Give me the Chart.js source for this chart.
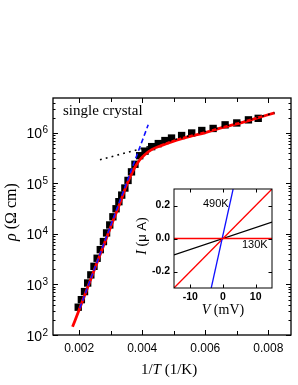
<!DOCTYPE html>
<html>
<head>
<meta charset="utf-8">
<script src="https://cdn.jsdelivr.net/npm/chart.js@4.4.1/dist/chart.umd.min.js"></script>
<style>
  html, body { margin: 0; padding: 0; background: #fff; }
  #wrap { position: relative; width: 298px; height: 385px; }
  #wrap canvas { position: absolute; left: 0; top: 0; }
</style>
</head>
<body>
<div id="wrap">
  <canvas id="mainChart" width="298" height="385"></canvas>
  <canvas id="insetChart" width="298" height="385"></canvas>
</div>
<script>
// ── Main panel: resistivity vs 1/T ───────────────────────────
const invT = [0.00197, 0.00207, 0.00217, 0.00227, 0.00237, 0.00247, 0.00257, 0.00267,
              0.00277, 0.00287, 0.00297, 0.00307, 0.00317, 0.00326, 0.00335, 0.00345,
              0.00355, 0.00366, 0.00377, 0.00392, 0.00409, 0.0043, 0.00451, 0.00472,
              0.00493, 0.00525, 0.00557, 0.00589, 0.00625, 0.00663, 0.0070, 0.00737, 0.00768];
const rho  = [355, 501, 724, 1070, 1550, 2290, 3310, 4900,
              7080, 10500, 15100, 21900, 31600, 43600, 58900, 81300,
              115000, 170000, 240000, 355000, 437000, 537000, 617000, 708000,
              794000, 891000, 1.0e6, 1.12e6, 1.23e6, 1.45e6, 1.58e6, 1.82e6, 1.95e6];

// red fit curve
const fitInvT = [0.00179, 0.0020, 0.0025, 0.0030, 0.0033, 0.0035, 0.0037, 0.0039, 0.0041,
                 0.0043, 0.0046, 0.0050, 0.0055, 0.0060, 0.0065, 0.0070, 0.0075, 0.0082];
const fitRho  = [145, 316, 2090, 13800, 41700, 91200, 174000, 282000, 380000,
                 468000, 562000, 692000, 851000, 1.02e6, 1.26e6, 1.51e6, 1.86e6, 2.51e6];

// blue dashed (high T) and black dotted (low T) guides
const steepInvT = [0.00202, 0.00419];
const steepRho  = [339, 1.45e6];
const flatInvT  = [0.00266, 0.0082];
const flatRho   = [295000, 2.51e6];

const xMajor = [0.002, 0.004, 0.006, 0.008];
const xMinor = [0.003, 0.005, 0.007];
const yDecades = [2, 3, 4, 5, 6];

// ── Inset: I-V curves ────────────────────────────────────────
const vBlue = [-3.6, 3.1],  iBlue = [-0.3, 0.3];     // 490K
const vRed  = [-15, 15],    iRed  = [-0.3, 0.3];
const vBlack = [-15, 15],   iBlack = [-0.1, 0.1];
const vFlat = [-15, 15],    iFlat = [0, 0];          // 130K
const insetXTicks = [-10, 0, 10];
const insetYTicks = [-0.2, 0, 0.2];
const insetYLabels = ['-0.2', '0.0', '0.2'];

const SERIF = '"Liberation Serif", "Times New Roman", serif';
const SANS  = '"Liberation Sans", Arial, sans-serif';

const pts = (xs, ys) => xs.map((v, i) => ({ x: v, y: ys[i] }));

// draw a run of text pieces with different fonts
function richText(ctx, parts, x, y, align) {
  ctx.textAlign = 'left';
  let w = 0;
  parts.forEach(p => { ctx.font = p.f; w += ctx.measureText(p.t).width; });
  let cx = align === 'center' ? x - w / 2 : x;
  parts.forEach(p => { ctx.font = p.f; ctx.fillText(p.t, cx, y); cx += ctx.measureText(p.t).width; });
}

const mainFrame = {
  id: 'mainFrame',
  afterDatasetsDraw(chart) {
    const { ctx, chartArea: a, scales: { x, y } } = chart;
    ctx.save();
    ctx.strokeStyle = '#000';
    ctx.fillStyle = '#000';
    ctx.lineWidth = 1;
    ctx.beginPath();
    const xt = (v, len) => {
      const px = Math.round(x.getPixelForValue(v)) + 0.5;
      ctx.moveTo(px, a.bottom); ctx.lineTo(px, a.bottom - len);
      ctx.moveTo(px, a.top);    ctx.lineTo(px, a.top + len);
    };
    const yt = (v, len) => {
      const py = Math.round(y.getPixelForValue(v)) + 0.5;
      ctx.moveTo(a.left, py);  ctx.lineTo(a.left + len, py);
      ctx.moveTo(a.right, py); ctx.lineTo(a.right - len, py);
    };
    xMajor.forEach(v => xt(v, 5));
    xMinor.forEach(v => xt(v, 4));
    for (let d = 2; d <= 6; d++) {
      yt(Math.pow(10, d), 5);
      for (let k = 2; k <= 9; k++) {
        const v = k * Math.pow(10, d);
        if (v < y.max) yt(v, 2.5);
      }
    }
    ctx.stroke();
    ctx.lineWidth = 1.3;
    ctx.strokeRect(a.left, a.top, a.right - a.left, a.bottom - a.top);

    // tick labels
    ctx.textBaseline = 'alphabetic';
    ctx.font = '12px ' + SANS;
    ctx.textAlign = 'center';
    xMajor.forEach(v => ctx.fillText(String(v), x.getPixelForValue(v), 352));
    yDecades.forEach(d => {
      const py = y.getPixelForValue(Math.pow(10, d));
      ctx.font = '14px ' + SANS;
      ctx.textAlign = 'right';
      ctx.fillText('10', 42, py + 5.5);
      ctx.font = '10px ' + SANS;
      ctx.textAlign = 'left';
      ctx.fillText(String(d), 42.5, py + 0.5);
    });

    // titles
    richText(ctx, [
      { t: '1/', f: '15px ' + SERIF },
      { t: 'T', f: 'italic 15px ' + SERIF },
      { t: ' (1/K)', f: '15px ' + SERIF }
    ], (a.left + a.right) / 2 - 3, 374, 'center');

    ctx.save();
    ctx.translate(16, 212);
    ctx.rotate(-Math.PI / 2);
    richText(ctx, [
      { t: 'ρ', f: 'italic 16px ' + SERIF },
      { t: ' (Ω cm)', f: '16px ' + SERIF }
    ], 0, 0, 'center');
    ctx.restore();

    ctx.font = '15px ' + SERIF;
    ctx.textAlign = 'left';
    ctx.fillText('single crystal', 63, 115);
    ctx.restore();
  }
};

const insetFrame = {
  id: 'insetFrame',
  beforeDatasetsDraw(chart) {
    const { ctx, chartArea: a } = chart;
    ctx.save();
    ctx.fillStyle = '#fff';
    ctx.fillRect(a.left, a.top, a.right - a.left, a.bottom - a.top);
    ctx.restore();
  },
  afterDatasetsDraw(chart) {
    const { ctx, chartArea: a, scales: { x, y } } = chart;
    ctx.save();
    ctx.strokeStyle = '#000';
    ctx.fillStyle = '#000';
    ctx.lineWidth = 1;
    ctx.beginPath();
    insetXTicks.forEach(v => {
      const px = Math.round(x.getPixelForValue(v)) + 0.5;
      ctx.moveTo(px, a.bottom); ctx.lineTo(px, a.bottom - 3.5);
      ctx.moveTo(px, a.top);    ctx.lineTo(px, a.top + 3.5);
    });
    insetYTicks.forEach(v => {
      const py = Math.round(y.getPixelForValue(v)) + 0.5;
      ctx.moveTo(a.left, py);  ctx.lineTo(a.left + 3.5, py);
      ctx.moveTo(a.right, py); ctx.lineTo(a.right - 3.5, py);
    });
    ctx.stroke();
    ctx.strokeRect(a.left, a.top, a.right - a.left, a.bottom - a.top);

    ctx.font = 'bold 10.5px ' + SANS;
    ctx.textBaseline = 'middle';
    ctx.textAlign = 'right';
    insetYTicks.forEach((v, i) => ctx.fillText(insetYLabels[i], a.left - 4, y.getPixelForValue(v)));
    ctx.textAlign = 'center';
    insetXTicks.forEach(v => ctx.fillText(String(v), x.getPixelForValue(v), a.bottom + 9.5));

    ctx.font = '11px ' + SANS;
    ctx.textAlign = 'left';
    ctx.fillText('490K', 203, 203.5);
    ctx.fillText('130K', 242, 244.5);

    ctx.textBaseline = 'alphabetic';
    richText(ctx, [
      { t: 'V', f: 'italic 14px ' + SERIF },
      { t: ' (mV)', f: '14px ' + SERIF }
    ], (a.left + a.right) / 2, 313.5, 'center');

    ctx.save();
    ctx.translate(146, 236);
    ctx.rotate(-Math.PI / 2);
    richText(ctx, [
      { t: 'I', f: 'italic 14px ' + SERIF },
      { t: ' (', f: '14px ' + SERIF },
      { t: 'μ A', f: '13px ' + SANS },
      { t: ')', f: '14px ' + SERIF }
    ], 0, 0, 'center');
    ctx.restore();
    ctx.restore();
  }
};

const baseOpts = {
  responsive: false,
  animation: false,
  devicePixelRatio: 1,
  plugins: { legend: { display: false }, tooltip: { enabled: false } }
};

new Chart(document.getElementById('mainChart'), {
  type: 'scatter',
  data: {
    datasets: [
      {
        data: pts(invT, rho), showLine: false,
        pointStyle: 'rect', pointRadius: 5.2, pointBorderWidth: 0,
        backgroundColor: '#000', borderColor: '#000', order: 4
      },
      {
        data: pts(fitInvT, fitRho), showLine: true, pointRadius: 0,
        borderColor: '#ff0000', borderWidth: 2.8, cubicInterpolationMode: 'monotone', order: 3
      },
      {
        data: pts(flatInvT, flatRho), showLine: true, pointRadius: 0,
        borderColor: '#000', borderWidth: 1.6, borderDash: [1.8, 4.2], order: 2
      },
      {
        data: pts(steepInvT, steepRho), showLine: true, pointRadius: 0,
        borderColor: '#1010ff', borderWidth: 1.6, borderDash: [5, 3], order: 1
      }
    ]
  },
  options: {
    ...baseOpts,
    layout: { padding: { left: 53, top: 98, right: 7, bottom: 50 } },
    scales: {
      x: { type: 'linear', min: 0.00117, max: 0.00872, display: false },
      y: { type: 'logarithmic', min: 100, max: 4.93e6, display: false }
    }
  },
  plugins: [mainFrame]
});

new Chart(document.getElementById('insetChart'), {
  type: 'scatter',
  data: {
    datasets: [
      { data: pts(vFlat, iFlat), showLine: true, pointRadius: 0, borderColor: '#ff0000', borderWidth: 1.3, order: 1 },
      { data: pts(vBlue, iBlue), showLine: true, pointRadius: 0, borderColor: '#1010ff', borderWidth: 1.3, order: 2 },
      { data: pts(vRed, iRed), showLine: true, pointRadius: 0, borderColor: '#ff0000', borderWidth: 1.3, order: 3 },
      { data: pts(vBlack, iBlack), showLine: true, pointRadius: 0, borderColor: '#000', borderWidth: 1.3, order: 4 }
    ]
  },
  options: {
    ...baseOpts,
    layout: { padding: { left: 174, top: 189, right: 26, bottom: 97 } },
    scales: {
      x: { type: 'linear', min: -15, max: 15, display: false },
      y: { type: 'linear', min: -0.3, max: 0.3, display: false }
    }
  },
  plugins: [insetFrame]
});
</script>
</body>
</html>
